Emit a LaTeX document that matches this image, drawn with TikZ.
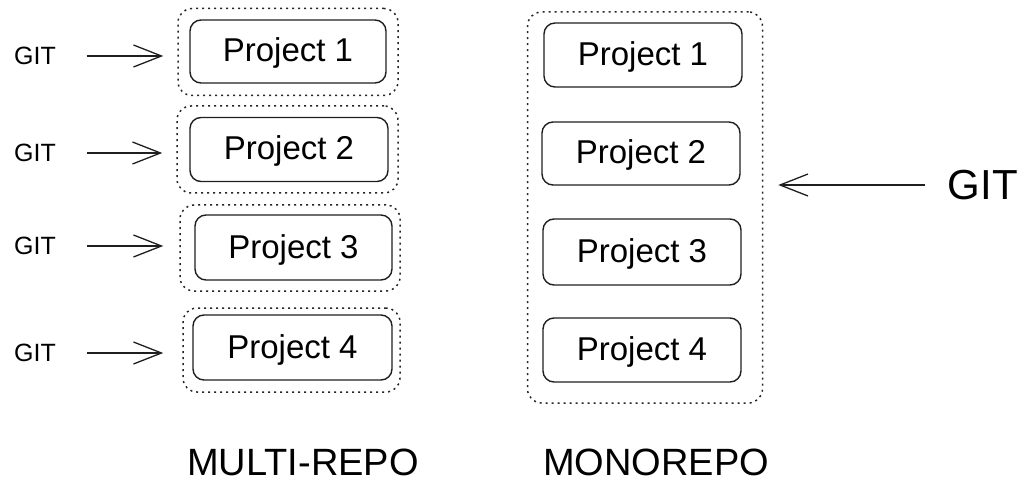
\documentclass[tikz,border=0pt]{standalone}
\usepackage{fontspec}
\setmainfont{Liberation Sans}
\usetikzlibrary{arrows.meta}
\begin{document}
\begin{tikzpicture}[x=1pt,y=-1pt,
  proj/.style={draw=black!88,line width=1.4pt,rounded corners=11pt,inner sep=0pt,
     text height=24pt,text depth=3pt,font=\fontsize{33}{36}\selectfont},
  grp/.style={draw=black!85,line width=1.5pt,dash pattern=on 2pt off 4pt,rounded corners=14pt,inner sep=0pt},
  gitsmall/.style={inner sep=0pt,minimum width=45pt,font=\fontsize{25}{27}\selectfont},
  gitbig/.style={inner sep=0pt,minimum width=75pt,font=\fontsize{42}{44}\selectfont},
  arr/.style={line width=1.3pt,draw=black!88,-{Straight Barb[length=28pt,width=22pt,line width=1.3pt]}},
  title/.style={inner sep=0pt,font=\fontsize{38}{40}\selectfont}]
\useasboundingbox (0,0) rectangle (1032,494);

% multi-repo
\node[grp,minimum width=220pt,minimum height=87pt] (o1) at (288,52) {};
\node[grp,minimum width=221pt,minimum height=87pt] (o2) at (287.5,149.5) {};
\node[grp,minimum width=220pt,minimum height=86pt] (o3) at (290,248) {};
\node[grp,minimum width=217pt,minimum height=84pt] (o4) at (291.5,350) {};
\node[proj,minimum width=196pt,minimum height=63pt] (p1) at (288,51.5) {Project 1};
\node[proj,minimum width=198pt,minimum height=64pt] (p2) at (289,149.5) {Project 2};
\node[proj,minimum width=197pt,minimum height=65pt] (p3) at (293.5,247.5) {Project 3};
\node[proj,minimum width=199pt,minimum height=65pt] (p4) at (292.5,347.5) {Project 4};

\node[gitsmall] (g1) at (35,56) {GIT};
\node[gitsmall] (g2) at (35,153) {GIT};
\node[gitsmall] (g3) at (35,246) {GIT};
\node[gitsmall] (g4) at (35,353) {GIT};
\draw[arr,shorten <=29pt,shorten >=14pt] (g1.east) -- (g1.east -| o1.west);
\draw[arr,shorten <=29pt,shorten >=14pt] (g2.east) -- (g2.east -| o2.west);
\draw[arr,shorten <=29pt,shorten >=16pt] (g3.east) -- (g3.east -| o3.west);
\draw[arr,shorten <=29pt,shorten >=19pt] (g4.east) -- (g4.east -| o4.west);

% monorepo
\node[grp,minimum width=235pt,minimum height=391pt] (mo) at (645,207.5) {};
\node[proj,minimum width=198pt,minimum height=64pt] (m1) at (643,55) {Project 1};
\node[proj,minimum width=198pt,minimum height=63pt] (m2) at (641,153.5) {Project 2};
\node[proj,minimum width=198pt,minimum height=66pt] (m3) at (642,252) {Project 3};
\node[proj,minimum width=198pt,minimum height=64pt] (m4) at (642,350) {Project 4};

\node[gitbig,anchor=west] (gb) at (945,185) {GIT};
\draw[arr,shorten <=20pt,shorten >=15pt] (gb.west) -- (gb.west -| mo.east);

\node[title] (t1) at (303,462) {MULTI-REPO};
\node[title] (t2) at (656,462) {MONOREPO};
\end{tikzpicture}
\end{document}
